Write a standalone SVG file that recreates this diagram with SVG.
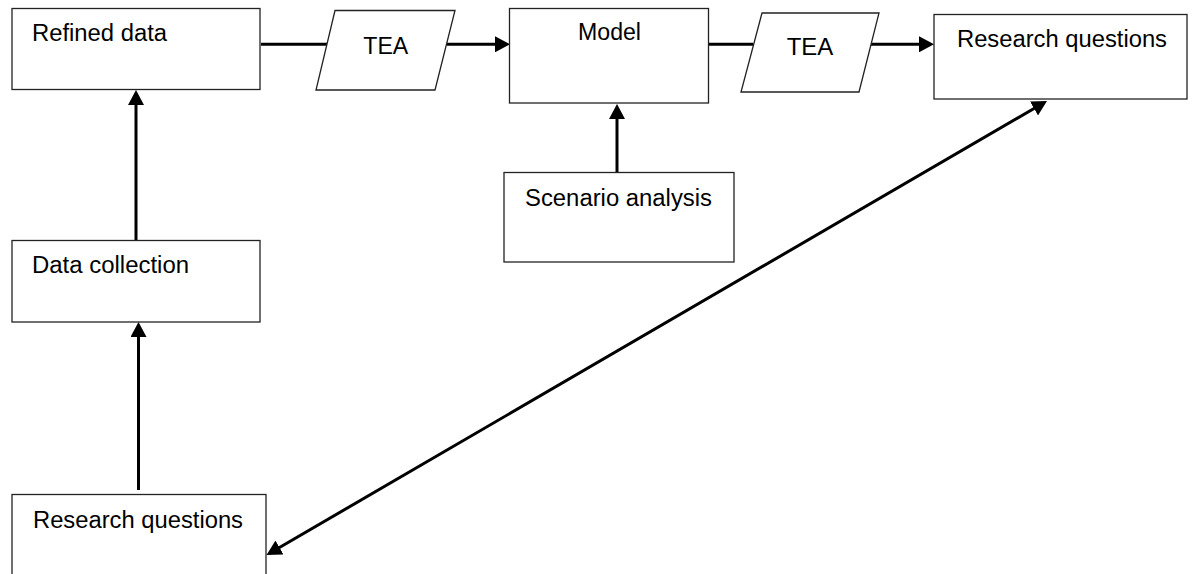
<svg xmlns="http://www.w3.org/2000/svg" width="1195" height="574" viewBox="0 0 1195 574">
<defs>
<style>
.box{fill:#fff;stroke:#222;stroke-width:1.3}
.lbl{font-family:"Liberation Sans",Arial,sans-serif;font-size:23px;fill:#000}
.con{stroke:#000;stroke-width:3;fill:none}
</style>
<marker id="ah" markerUnits="userSpaceOnUse" markerWidth="15" markerHeight="16" refX="6" refY="8" orient="auto-start-reverse" viewBox="0 0 15 16">
<path d="M0,0 L15,8 L0,16 z" fill="#000"/>
</marker>
</defs>
<rect width="1195" height="574" fill="#fff"/>
<g id="connectors">
<line class="con" x1="261" y1="44.3" x2="327" y2="44.3"/>
<line class="con" x1="447" y1="44.3" x2="501" y2="44.3" marker-end="url(#ah)"/>
<line class="con" x1="708" y1="44.3" x2="753" y2="44.3"/>
<line class="con" x1="870" y1="44.3" x2="925" y2="44.3" marker-end="url(#ah)"/>
<line class="con" x1="617" y1="172.5" x2="617" y2="113" marker-end="url(#ah)"/>
<line class="con" x1="136" y1="240.5" x2="136" y2="99" marker-end="url(#ah)"/>
<line class="con" x1="138.5" y1="490" x2="138.5" y2="331" marker-end="url(#ah)"/>
<line class="con" x1="274.3" y1="550.5" x2="1039.2" y2="105.5" marker-start="url(#ah)" marker-end="url(#ah)"/>
</g>
<g id="refined-data">
<rect class="box" x="12" y="8.5" width="248" height="81"/>
<text class="lbl" x="32" y="41" textLength="135" lengthAdjust="spacingAndGlyphs">Refined data</text>
</g>
<g id="tea-1">
<polygon class="box" points="335,10.5 455,10.5 435,90 316,90"/>
<text class="lbl" x="363.3" y="53.5" textLength="45" lengthAdjust="spacingAndGlyphs">TEA</text>
</g>
<g id="model">
<rect class="box" x="509.5" y="8.5" width="199" height="94.5"/>
<text class="lbl" x="578" y="39.5" textLength="63" lengthAdjust="spacingAndGlyphs">Model</text>
</g>
<g id="tea-2">
<polygon class="box" points="762,13 879,13 859,92 741,92"/>
<text class="lbl" x="786.7" y="55" textLength="46.6" lengthAdjust="spacingAndGlyphs">TEA</text>
</g>
<g id="research-questions-top">
<rect class="box" x="934" y="14.5" width="253" height="84.5"/>
<text class="lbl" x="957" y="47" textLength="210" lengthAdjust="spacingAndGlyphs">Research questions</text>
</g>
<g id="scenario-analysis">
<rect class="box" x="504" y="172.5" width="230" height="89.5"/>
<text class="lbl" x="525" y="206" textLength="187" lengthAdjust="spacingAndGlyphs">Scenario analysis</text>
</g>
<g id="data-collection">
<rect class="box" x="12" y="240.5" width="248" height="81.5"/>
<text class="lbl" x="32" y="273" textLength="157" lengthAdjust="spacingAndGlyphs">Data collection</text>
</g>
<g id="research-questions-bottom">
<rect class="box" x="12" y="494.5" width="254" height="100"/>
<text class="lbl" x="33" y="528" textLength="210" lengthAdjust="spacingAndGlyphs">Research questions</text>
</g>
</svg>
